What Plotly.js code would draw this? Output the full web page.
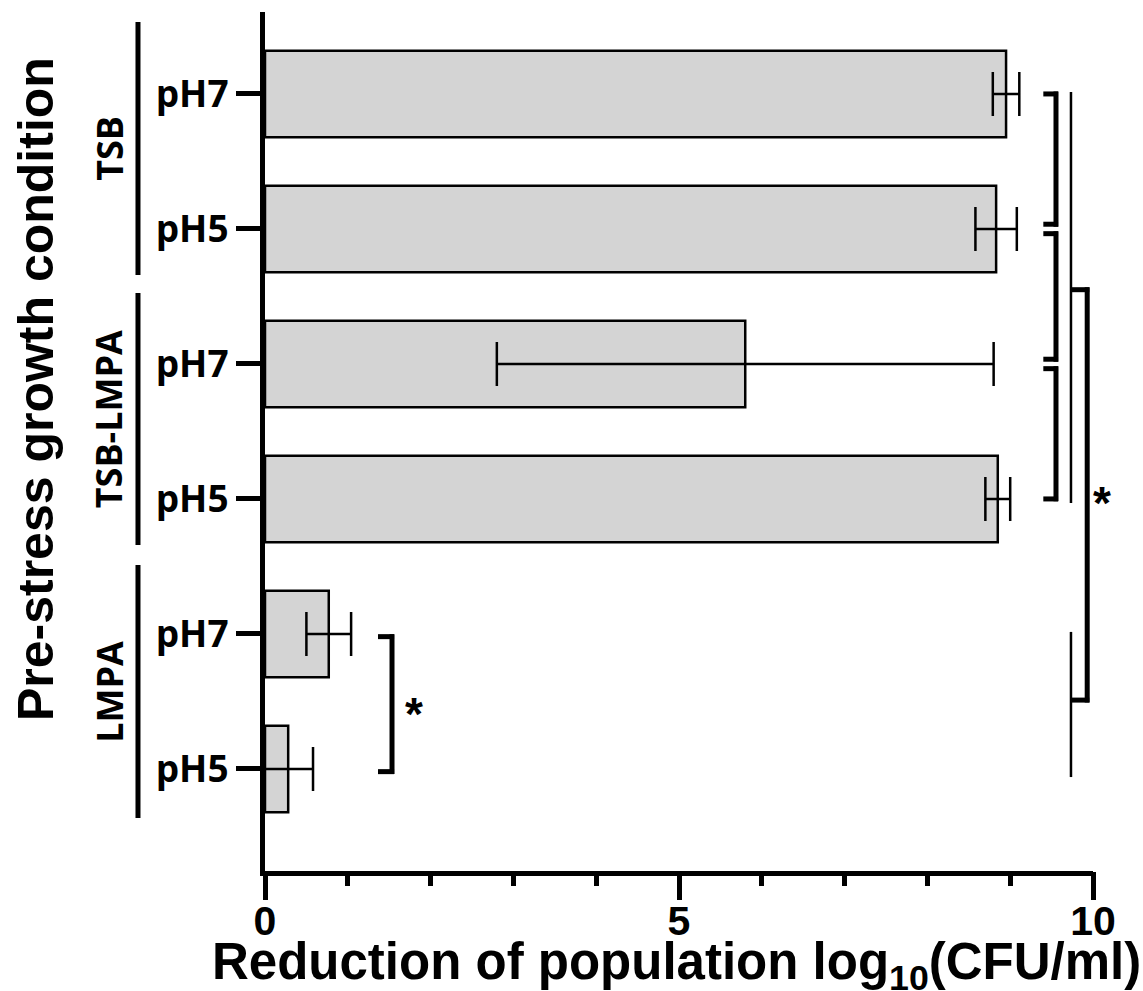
<!DOCTYPE html>
<html>
<head>
<meta charset="utf-8">
<script src="https://cdn.plot.ly/plotly-3.0.1.min.js"></script>
<style>html,body{margin:0;padding:0;background:#fff;}#chart{width:1143px;height:991px;}</style>
</head>
<body>
<div id="chart"></div>
<script>
// ---- data ----
const categories = ['pH7', 'pH5', 'pH7', 'pH5', 'pH7', 'pH5'];
const groupNames = ['TSB', 'TSB-LMPA', 'LMPA'];
const reduction = [8.95, 8.83, 5.80, 8.85, 0.77, 0.28];
const errorSD = [0.16, 0.25, 3.00, 0.15, 0.27, 0.30];
const xTickVals = [0, 5, 10];
const xTickText = ['0', '5', '10'];
const xMinorTickVals = [0, 1, 2, 3, 4, 5, 6, 7, 8, 9, 10];
const xTitle = 'Reduction of population log<sub>10</sub>(CFU/ml)';
const yTitle = 'Pre-stress growth condition';
// comparisons: [fromIndex, toIndex, label]
const pairBrackets = [[0, 1, ''], [1, 2, ''], [2, 3, ''], [4, 5, '*']];
const groupComparison = [[0, 3], [4, 5], '*'];

// ---- layout helpers ----
const yIdx = categories.map((c, i) => i);
const X_RANGE = [0, 10];
const Y_RANGE = [5.756, -0.607];
const px = v => (v - X_RANGE[0]) / (X_RANGE[1] - X_RANGE[0]);
const py = c => (Y_RANGE[0] - c) / (Y_RANGE[0] - Y_RANGE[1]);

const ARIAL = '"Liberation Sans", Arial, sans-serif';
const OPEN = '"Open Sans", "Noto Sans", sans-serif';
const black = '#000';

const shapes = [];
const annotations = [];
function line(x0, y0, x1, y1, w) {
  shapes.push({type: 'line', xref: 'paper', yref: 'paper', x0: px(x0), x1: px(x1), y0: py(y0), y1: py(y1),
    line: {color: black, width: w}, layer: 'above'});
}

// thick stacked brackets for non-significant TSB / TSB-LMPA comparisons
const bx = 9.553, barm = 9.40, gap = 0.035;
pairBrackets.slice(0, 3).forEach(([a, b], k) => {
  const y0 = yIdx[a] + (k === 0 ? 0 : gap);
  const y1 = yIdx[b] - (k === 2 ? 0 : gap);
  line(barm, y0, bx + 0.025, y0, 5);
  line(bx, y0 - 0.018, bx, y1 + 0.018, 5);
  line(barm, y1, bx + 0.025, y1, 5);
});

// LMPA pH7 vs pH5 bracket
{
  const [a, b, lab] = pairBrackets[3];
  const xv = 1.534, xa = 1.365;
  line(xa, yIdx[a] + 0.02, xv + 0.025, yIdx[a] + 0.02, 5);
  line(xv, yIdx[a] + 0.002, xv, yIdx[b] + 0.038, 5);
  line(xa, yIdx[b] + 0.02, xv + 0.025, yIdx[b] + 0.02, 5);
  annotations.push({xref: 'paper', yref: 'paper', x: px(1.67), y: py(4.80),
    text: lab, showarrow: false, font: {family: ARIAL, size: 46, color: black, weight: 'bold'}});
}

// group comparison: (TSB + TSB-LMPA) vs LMPA
{
  const [g1, g2, lab] = groupComparison;
  const xl = 9.734, xr = 9.93;
  line(xl, g1[0] - 0.015, xl, g1[1] + 0.03, 2.5);
  line(xl, g2[0] - 0.015, xl, g2[1] + 0.06, 2.5);
  const m1 = (g1[0] + g1[1]) / 2 - 0.05, m2 = (g2[0] + g2[1]) / 2 - 0.01;
  line(xl, m1, xr + 0.025, m1, 5);
  line(xr, m1 - 0.018, xr, m2 + 0.018, 5);
  line(xl, m2, xr + 0.025, m2, 5);
  annotations.push({xref: 'paper', yref: 'paper', x: px(10.24), y: py(3.03),
    text: lab, showarrow: false, font: {family: ARIAL, size: 46, color: black, weight: 'bold'}});
}

// group lines and labels on the left
const groupSpan = [[-0.533, 1.341], [1.474, 3.341], [3.489, 5.363]];
groupNames.forEach((g, k) => {
  const [s, e] = groupSpan[k];
  shapes.push({type: 'line', xref: 'paper', yref: 'paper', x0: -0.1534, x1: -0.1534, y0: py(s), y1: py(e),
    line: {color: black, width: 5}});
  annotations.push({xref: 'paper', yref: 'paper', x: -0.188, y: py((s + e) / 2), textangle: -90,
    text: g, showarrow: false, xanchor: 'center', yanchor: 'middle',
    font: {family: OPEN, size: 36, color: black, weight: 700}});
});

// axis titles
annotations.push({xref: 'paper', yref: 'paper', x: -0.2766, y: 0.561, textangle: -90, text: yTitle,
  showarrow: false, xanchor: 'center', yanchor: 'middle',
  font: {family: ARIAL, size: 50, color: black, weight: 'bold'}});
annotations.push({xref: 'paper', yref: 'paper', x: 0.497, y: -0.110, text: xTitle,
  showarrow: false, xanchor: 'center', yanchor: 'middle',
  font: {family: ARIAL, size: 51, color: black, weight: 'bold'}});

const trace = {
  type: 'bar', orientation: 'h',
  x: reduction, y: yIdx, width: 0.64,
  marker: {color: '#d4d4d4', line: {color: black, width: 2.5}},
  error_x: {type: 'data', array: errorSD, visible: true, color: black, thickness: 2.5, width: 22},
  hoverinfo: 'x'
};
// empty trace that carries the overlaid axis used for the short (minor) x ticks
const minorCarrier = {type: 'scatter', x: [], y: [], xaxis: 'x2', yaxis: 'y', hoverinfo: 'skip', showlegend: false};

const layout = {
  width: 1143, height: 991,
  margin: {l: 265, r: 50, t: 12, b: 120, pad: 0},
  paper_bgcolor: '#fff', plot_bgcolor: '#fff',
  showlegend: false,
  xaxis: {
    range: X_RANGE, showgrid: false, zeroline: false,
    showline: true, linecolor: black, linewidth: 5,
    tickmode: 'array', tickvals: xTickVals, ticktext: xTickText,
    ticks: 'outside', ticklen: 24, tickwidth: 5, tickcolor: black,
    tickangle: 0,
    ticklabelstandoff: -14,
    tickfont: {family: ARIAL, size: 41, color: black, weight: 'bold'},
    fixedrange: true
  },
  xaxis2: {
    range: X_RANGE, overlaying: 'x', anchor: 'y', side: 'bottom',
    showgrid: false, zeroline: false, showline: false,
    tickmode: 'array', tickvals: xMinorTickVals, showticklabels: false,
    ticks: 'outside', ticklen: 14, tickwidth: 5, tickcolor: black,
    fixedrange: true
  },
  yaxis: {
    range: Y_RANGE, showgrid: false, zeroline: false,
    showline: true, linecolor: black, linewidth: 5,
    tickmode: 'array', tickvals: yIdx, ticktext: categories,
    ticks: 'outside', ticklen: 24, tickwidth: 5, tickcolor: black,
    ticklabelstandoff: 0,
    tickfont: {family: OPEN, size: 37, color: black, weight: 700},
    fixedrange: true
  },
  shapes: shapes,
  annotations: annotations
};

Plotly.newPlot('chart', [trace, minorCarrier], layout, {displayModeBar: false, staticPlot: true});
</script>
</body>
</html>
